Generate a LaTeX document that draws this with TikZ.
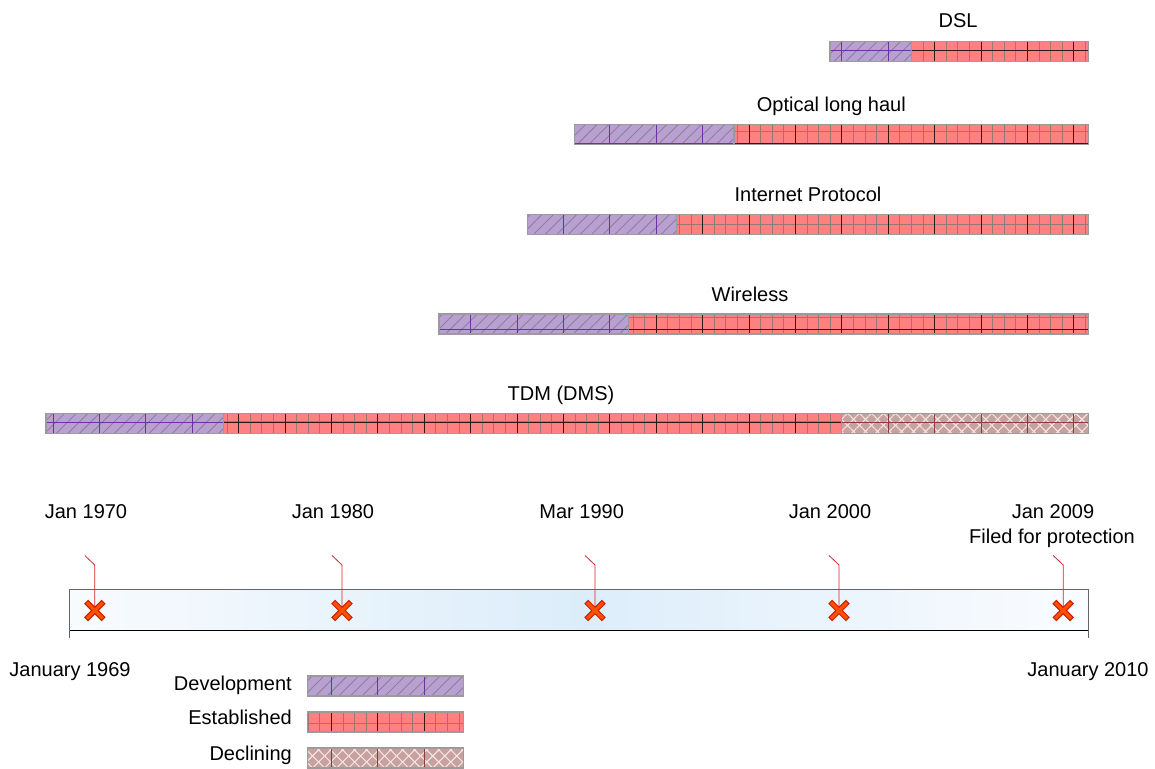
\documentclass[tikz,border=0pt]{standalone}
\usepackage{fontspec}
\setmainfont{Liberation Sans}
\usetikzlibrary{patterns.meta}

\definecolor{devfill}{RGB}{185,160,210}
\definecolor{devhatch}{RGB}{140,128,150}
\definecolor{devline}{RGB}{112,48,160}
\definecolor{estfill}{RGB}{255,128,128}
\definecolor{estminor}{RGB}{150,120,120}
\definecolor{estmajor}{RGB}{50,25,25}
\definecolor{decfill}{RGB}{200,160,158}
\definecolor{declattice}{RGB}{242,228,228}
\definecolor{decline}{RGB}{140,60,60}
\definecolor{barframe}{RGB}{155,155,155}
\definecolor{tlleft}{RGB}{248,251,254}
\definecolor{tlmid}{RGB}{220,237,250}
\definecolor{tlright}{RGB}{250,252,255}
\definecolor{xedge}{RGB}{200,30,0}
\definecolor{xfill}{RGB}{255,80,0}
\definecolor{calloutred}{RGB}{205,40,40}

\tikzset{
  lbl/.style={anchor=base, inner sep=0pt},
  legendlbl/.style={anchor=base east, inner sep=0pt},
  segframe/.style={draw=barframe, line width=1.1pt},
  devgrid/.style={draw=devline, line width=0.7pt},
  estminorgrid/.style={draw=estminor, line width=0.9pt},
  estmajorgrid/.style={draw=estmajor, line width=0.7pt},
  decgrid/.style={draw=decline, line width=0.7pt},
  callout/.style={draw=calloutred, line width=0.8pt},
  timebox/.style={minimum width=1018pt, minimum height=40pt, inner sep=0pt,
    left color=tlleft, right color=tlright, middle color=tlmid},
  crossmark/.pic={
    \draw[line width=5.6pt, line cap=rect, draw=xedge] (-6.8,-6.8) -- (6.8,6.8) (-6.8,6.8) -- (6.8,-6.8);
    \draw[line width=3.2pt, line cap=rect, draw=xfill] (-6.8,-6.8) -- (6.8,6.8) (-6.8,6.8) -- (6.8,-6.8);
  }
}

\begin{document}
\begin{tikzpicture}[x=1pt, y=-1pt, font=\fontsize{20}{24}\selectfont]
\useasboundingbox (0,0) rectangle (1155,768);

% ---- development segments ----
\begin{scope}
  \clip (830,41.5) rectangle (911.7,61.5)
        (574.5,124.5) rectangle (734,144.5)
        (527.5,214.2) rectangle (676.5,234.2)
        (439,314) rectangle (628.3,334)
        (46,413.3) rectangle (223.3,433.3)
        (307.3,676) rectangle (463.3,696);
  \fill[devfill] (0,0) rectangle (1155,768);
  \fill[pattern={Lines[angle=45,distance=8.2pt,line width=0.9pt]}, pattern color=devhatch] (0,0) rectangle (1155,768);
  \foreach \i in {0,...,22} \draw[devgrid] ({53+46.4*\i},0) -- ({53+46.4*\i},768);
  \foreach \j in {-1,...,15} \draw[devgrid] (0,{50.7+46.4*\j}) -- (1155,{50.7+46.4*\j});
\end{scope}

% ---- established segments ----
\begin{scope}
  \clip (911.7,41.5) rectangle (1088.3,61.5)
        (734,124.5) rectangle (1088.3,144.5)
        (676.5,214.2) rectangle (1088.3,234.2)
        (628.3,314) rectangle (1088.3,334)
        (223.3,413.3) rectangle (841.7,433.3)
        (307.3,712) rectangle (463.3,732);
  \fill[estfill] (0,0) rectangle (1155,768);
  \foreach \i in {0,...,90} \draw[estminorgrid] ({53+11.6*\i},0) -- ({53+11.6*\i},768);
  \foreach \j in {-5,...,62} \draw[estminorgrid] (0,{50.7+11.6*\j}) -- (1155,{50.7+11.6*\j});
  \foreach \i in {0,...,22} \draw[estmajorgrid] ({53+46.4*\i},0) -- ({53+46.4*\i},768);
  \foreach \j in {-1,...,15} \draw[estmajorgrid] (0,{50.7+46.4*\j}) -- (1155,{50.7+46.4*\j});
\end{scope}

% ---- declining segments ----
\begin{scope}
  \clip (841.7,413.3) rectangle (1088.3,433.3)
        (307.3,748) rectangle (463.3,768);
  \fill[decfill] (0,0) rectangle (1155,768);
  \fill[pattern={Lines[angle=45,distance=8.5pt,line width=1.1pt]}, pattern color=declattice] (0,0) rectangle (1155,768);
  \fill[pattern={Lines[angle=-45,distance=8.5pt,line width=1.1pt]}, pattern color=declattice] (0,0) rectangle (1155,768);
  \foreach \i in {0,...,22} \draw[decgrid] ({53+46.4*\i},0) -- ({53+46.4*\i},768);
  \foreach \j in {-1,...,15} \draw[decgrid] (0,{50.7+46.4*\j}) -- (1155,{50.7+46.4*\j});
\end{scope}

% ---- segment frames ----
\draw[segframe] (830,41.5) rectangle (911.7,61.5) (911.7,41.5) rectangle (1088.3,61.5);
\draw[segframe] (574.5,124.5) rectangle (734,144.5) (734,124.5) rectangle (1088.3,144.5);
\draw[segframe] (527.5,214.2) rectangle (676.5,234.2) (676.5,214.2) rectangle (1088.3,234.2);
\draw[segframe] (439,314) rectangle (628.3,334) (628.3,314) rectangle (1088.3,334);
\draw[segframe] (46,413.3) rectangle (223.3,433.3) (223.3,413.3) rectangle (841.7,433.3)
                (841.7,413.3) rectangle (1088.3,433.3);
\draw[segframe] (307.3,676) rectangle (463.3,696);
\draw[segframe] (307.3,712) rectangle (463.3,732);
\draw[segframe] (307.3,748) rectangle (463.3,768);

% ---- bar titles ----
\node[lbl] (tdsl) at (958,27.3) {DSL};
\node[lbl] (toptical) at (831.3,111.7) {Optical long haul};
\node[lbl] (tip) at (808,201.5) {Internet Protocol};
\node[lbl] (twireless) at (750,301.5) {Wireless};
\node[lbl] (ttdm) at (561,400.5) {TDM (DMS)};

% ---- timeline ----
\node[timebox] (timeline) at (579,610) {};
\draw[draw=gray!80!black, line width=1pt] (timeline.south west) -- (timeline.north west)
  -- (timeline.north east) -- (timeline.south east);
\draw[black, line width=1.2pt] (timeline.south west) -- (timeline.south east);
\draw[gray!80!black, line width=1pt] (timeline.south west) -- ++(0,8);
\draw[gray!80!black, line width=1pt] (timeline.south east) -- ++(0,8);

\node[lbl] (tstart) at (70,676.5) {January 1969};
\node[lbl] (tend) at (1088,676.5) {January 2010};

% ---- events ----
\foreach \n/\x in {1/94.8, 2/342, 3/595, 4/839, 5/1063.2} {
  \coordinate (m\n) at (\x,610.5);
  \coordinate (k\n) at (\x,565);
  \coordinate (c\n) at (\x-10,555.5);
  \draw[callout] (c\n) -- (k\n) -- (m\n);
  \pic at (m\n) {crossmark};
}

\node[lbl] (d1) at (86,518.5) {Jan 1970};
\node[lbl] (d2) at (333,518.5) {Jan 1980};
\node[lbl] (d3) at (581.7,518.5) {Mar 1990};
\node[lbl] (d4) at (830,518.5) {Jan 2000};
\node[lbl] (d5) at (1053,518.5) {Jan 2009};
\node[lbl] (d5b) at (1052,543.5) {Filed for protection};

% ---- legend ----
\node[legendlbl] (ldev) at (292,690) {Development};
\node[legendlbl] (lest) at (292,724.5) {Established};
\node[legendlbl] (ldec) at (292,760) {Declining};
\end{tikzpicture}
\end{document}
